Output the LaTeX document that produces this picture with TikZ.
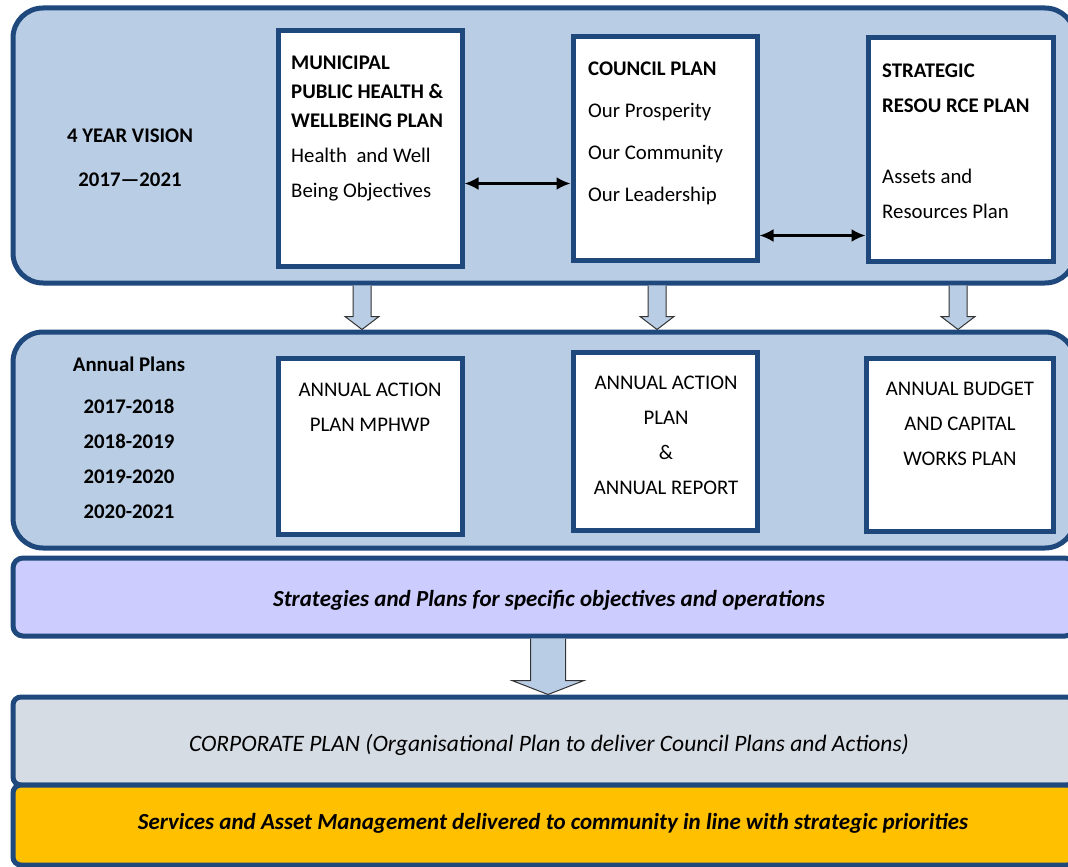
\documentclass[tikz,border=0pt]{standalone}
\usepackage{fontspec}
\setmainfont{Carlito}
\usepackage{tikz}
\usetikzlibrary{arrows.meta,calc}
\definecolor{bandblue}{HTML}{B9CDE5}
\definecolor{edgeblue}{HTML}{1F497D}
\definecolor{lavender}{HTML}{CCCCFF}
\definecolor{corpgrey}{HTML}{D6DCE4}
\definecolor{gold}{HTML}{FFC000}
\tikzset{%
        band/.style = {draw = edgeblue, line width = 5pt, fill = bandblue,
                rounded corners = 30pt, minimum width = 1062pt, inner sep = 0pt},
        planbox/.style = {draw = edgeblue, line width = 5pt, fill = white,
                minimum width = 184pt, inner sep = 0pt},
        boxtext/.style = {inner sep = 0pt, font = \fontsize{20.8}{35}\selectfont},
        bandtext/.style = {inner sep = 0pt, font = \fontsize{23}{26}\selectfont\bfseries\itshape},
        blockarrow/.style = {draw = black!80, line width = 1pt, fill = bandblue},
        twoway/.style = {{Latex[length=14pt,width=13pt]}-{Latex[length=14pt,width=13pt]},
                line width = 2.5pt, black}
}
\begin{document}
\begin{tikzpicture}[x=1pt, y=-1pt]
            \clip (0,0) rectangle (1068,867);
            \fill[white] (0,0) rectangle (1068,867);
            % the five bands
            \node[band, minimum height=275pt] (vision) at (544,145.5) {};
            \node[band, minimum height=216pt] (annual) at (544,440) {};
            \node[band, minimum height=78pt, fill=lavender, rounded corners=10pt] (strat) at (544,597) {};
            \node[band, minimum height=88pt, fill=corpgrey, rounded corners=8pt] (corp) at (544,741) {};
            \node[band, minimum height=80pt, fill=gold, rounded corners=8pt] (serv) at (544,825) {};
            % four year plans
            \node[planbox, minimum height=235pt] (mphwp) at (370,148.5) {};
            \node[planbox, minimum height=223pt] (council) at (665,148.5) {};
            \node[planbox, minimum height=223pt, minimum width=185pt] (srp) at (960.5,149.5) {};
            % annual plans
            \node[planbox, minimum height=176pt] (aapm) at (370,446) {};
            \node[planbox, minimum height=178pt] (aapc) at (665,441) {};
            \node[planbox, minimum height=173pt, minimum width=187pt] (abud) at (959.5,444.5) {};
            % texts
            \node[boxtext, font=\fontsize{20.8}{44}\selectfont\bfseries, align=center] (vision-text) at (130,158)
                {4 YEAR VISION\\2017—2021};
            \node[boxtext, anchor=north west, align=left] (mphwp-text) at (291,56)
                {\textbf{MUNICIPAL}\\[-6pt]\textbf{PUBLIC HEALTH \&}\\[-6pt]\textbf{WELLBEING PLAN}\\
                 Health\ \ and Well\\Being Objectives};
            \node[boxtext, font=\fontsize{20.8}{42}\selectfont, anchor=north west, align=left] (council-text) at (588,62)
                {\textbf{COUNCIL PLAN}\\Our Prosperity\\Our Community\\Our Leadership};
            \node[boxtext, anchor=north west, align=left] (srp-text) at (882,64)
                {\textbf{STRATEGIC}\\\textbf{RESOU RCE PLAN}\\[36pt]Assets and\\Resources Plan};
            \node[boxtext, anchor=north, align=center] (annual-text) at (129,357)
                {\textbf{Annual Plans}\\[7pt]\textbf{2017-2018}\\\textbf{2018-2019}\\\textbf{2019-2020}\\\textbf{2020-2021}};
            \node[boxtext, anchor=north, align=center] (aapm-text) at (370,383)
                {ANNUAL ACTION\\PLAN MPHWP};
            \node[boxtext, anchor=north, align=center] (aapc-text) at (666,376)
                {ANNUAL ACTION\\PLAN\\\&\\ANNUAL REPORT};
            \node[boxtext, anchor=north, align=center] (abud-text) at (960,382)
                {ANNUAL BUDGET\\AND CAPITAL\\WORKS PLAN};
            \node[bandtext] (strat-text) at (549,600) {Strategies and Plans for specific objectives and operations};
            \node[bandtext, font=\fontsize{23.5}{26}\selectfont\itshape] (corp-text) at (549,745)
                {CORPORATE PLAN (Organisational Plan to deliver Council Plans and Actions)};
            \node[bandtext] (serv-text) at (553,823) {Services and Asset Management delivered to community in line with strategic priorities};
            % links between the four year plans
            \draw[twoway] ([yshift=-35pt]mphwp.east) -- ([yshift=-35pt]mphwp.east -| council.west);
            \draw[twoway] ([yshift=-87pt]council.east) -- ([yshift=-87pt]council.east -| srp.west);
            % block arrows down
            \foreach \ax in {362, 657, 958} {
                \coordinate (top) at (\ax,0 |- vision.south);
                \coordinate (bot) at (\ax,0 |- annual.north);
                \draw[blockarrow] ([xshift=-9pt]top) -- ([xshift=-9pt,yshift=13pt]bot)
                    -- ([xshift=-17pt,yshift=13pt]bot) -- (bot) -- ([xshift=17pt,yshift=13pt]bot)
                    -- ([xshift=9pt,yshift=13pt]bot) -- ([xshift=9pt]top);
            }
            \coordinate (top) at (548,0 |- strat.south);
            \coordinate (bot) at (548,0 |- corp.north);
            \draw[blockarrow] ([xshift=-17.5pt]top) -- ([xshift=-17.5pt,yshift=14pt]bot)
                -- ([xshift=-36pt,yshift=14pt]bot) -- (bot) -- ([xshift=36pt,yshift=14pt]bot)
                -- ([xshift=17.5pt,yshift=14pt]bot) -- ([xshift=17.5pt]top);
        \end{tikzpicture}
\end{document}
